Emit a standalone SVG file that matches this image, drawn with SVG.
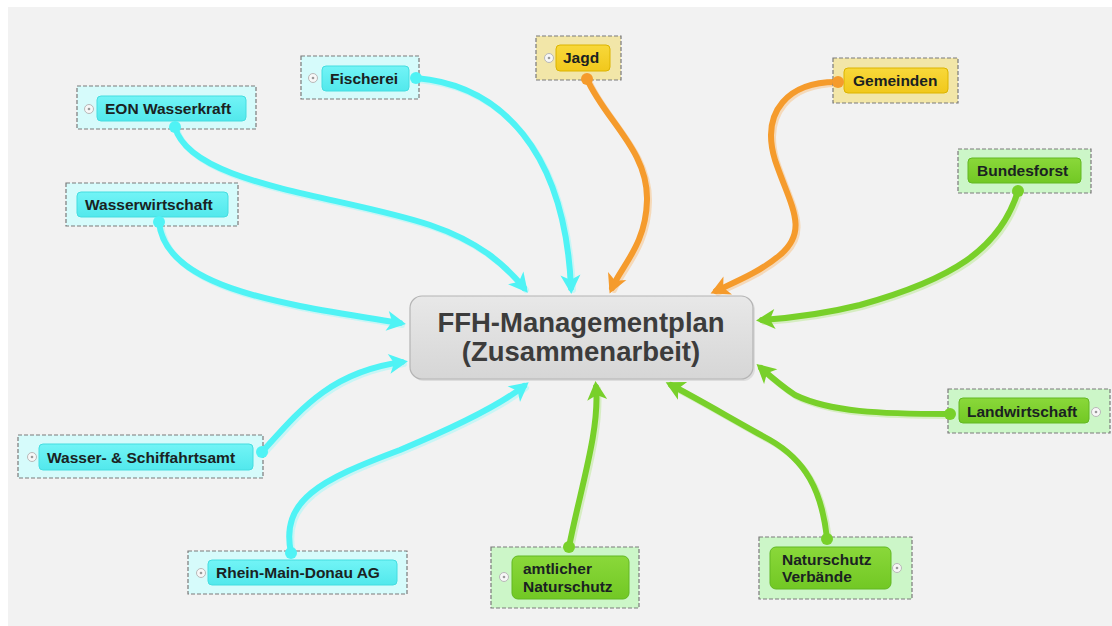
<svg xmlns="http://www.w3.org/2000/svg" width="1112" height="626" viewBox="0 0 1112 626">
<style>
.bg{fill:#f2f2f2}
.ob{stroke:#7a7a7a;stroke-width:1.2;stroke-dasharray:4 2}
.obc{fill:#d6fbfb}
.oby{fill:#f2e6a8}
.obg{fill:#ccf6c8}
.ibc{fill:url(#gc);stroke:#45dde0;stroke-width:1}
.iby{fill:url(#gy);stroke:#dcb400;stroke-width:1}
.ibg{fill:url(#gg);stroke:#62b822;stroke-width:1}
.t{font-family:"Liberation Sans",Arial,sans-serif;font-weight:bold;font-size:15.5px;fill:#1a2222}
.ct{font-family:"Liberation Sans",Arial,sans-serif;font-weight:bold;font-size:27.5px;fill:#3c3c3c;text-anchor:middle}
.ex{fill:#f7f7f7;stroke:#b8b8b8;stroke-width:1}
.exd{fill:#9a9a9a}
.ln{fill:none;stroke-width:6;stroke-linecap:round}
.sh{fill:none;stroke-width:6;stroke-linecap:round;opacity:0.55}
.c{stroke:#4ff3f5}
.o{stroke:#f59b2c}
.g{stroke:#78d02a}
.cs{stroke:#a8f7f7}
.os{stroke:#f7c48a}
.gs{stroke:#bfe99a}
</style>
<defs>
<linearGradient id="gc" x1="0" y1="0" x2="0" y2="1"><stop offset="0" stop-color="#72f4f6"/><stop offset="1" stop-color="#52e8ec"/></linearGradient>
<linearGradient id="gy" x1="0" y1="0" x2="0" y2="1"><stop offset="0" stop-color="#f8d83a"/><stop offset="1" stop-color="#f1c81c"/></linearGradient>
<linearGradient id="gg" x1="0" y1="0" x2="0" y2="1"><stop offset="0" stop-color="#8ad83a"/><stop offset="1" stop-color="#72c824"/></linearGradient>
<linearGradient id="gm" x1="0" y1="0" x2="0" y2="1"><stop offset="0" stop-color="#e8e8e8"/><stop offset="1" stop-color="#d6d6d6"/></linearGradient>
<marker id="ac" markerUnits="userSpaceOnUse" markerWidth="24" markerHeight="24" viewBox="-2 -12 24 24" refX="13" refY="0" orient="auto"><path d="M0,-10 L19,0 L0,10 L5,0 Z" fill="#4ff3f5"/></marker>
<marker id="ao" markerUnits="userSpaceOnUse" markerWidth="24" markerHeight="24" viewBox="-2 -12 24 24" refX="13" refY="0" orient="auto"><path d="M0,-10 L19,0 L0,10 L5,0 Z" fill="#f59b2c"/></marker>
<marker id="ag" markerUnits="userSpaceOnUse" markerWidth="24" markerHeight="24" viewBox="-2 -12 24 24" refX="13" refY="0" orient="auto"><path d="M0,-10 L19,0 L0,10 L5,0 Z" fill="#78d02a"/></marker>
</defs>
<rect x="0" y="0" width="1112" height="626" fill="#ffffff"/>
<rect class="bg" x="8" y="7" width="1104" height="619"/>

<g id="connectors">
<g transform="translate(2,2)">
<path class="sh cs" d="M416,78 C500,85 565,150 571,288"/>
<path class="sh cs" d="M175,127 C190,185 340,195 430,225 C480,242 505,265 524,288"/>
<path class="sh cs" d="M159,222 C165,290 290,305 400,323"/>
<path class="sh cs" d="M262,452 C300,410 330,372 402,362"/>
<path class="sh cs" d="M291,553 C280,500 320,480 400,450 C460,425 500,405 524,386"/>
<path class="sh os" d="M587,79 C605,120 648,150 647,200 C646,245 622,265 612,288"/>
<path class="sh os" d="M836,82 C790,82 760,110 775,160 C790,205 810,230 780,255 C760,272 735,282 716,291"/>
<path class="sh gs" d="M1018,191 C1000,250 950,280 860,305 C820,315 790,318 762,320"/>
<path class="sh gs" d="M950,414 C880,414 830,412 795,395 C780,385 770,376 761,368"/>
<path class="sh gs" d="M827,539 C822,490 805,460 770,440 C730,418 700,400 671,385"/>
<path class="sh gs" d="M569,547 C580,490 600,430 596,387"/>
</g>
<path class="ln c" marker-end="url(#ac)" d="M416,78 C500,85 565,150 571,288"/>
<path class="ln c" marker-end="url(#ac)" d="M175,127 C190,185 340,195 430,225 C480,242 505,265 524,288"/>
<path class="ln c" marker-end="url(#ac)" d="M159,222 C165,290 290,305 400,323"/>
<path class="ln c" marker-end="url(#ac)" d="M262,452 C300,410 330,372 402,362"/>
<path class="ln c" marker-end="url(#ac)" d="M291,553 C280,500 320,480 400,450 C460,425 500,405 524,386"/>
<path class="ln o" marker-end="url(#ao)" d="M587,79 C605,120 648,150 647,200 C646,245 622,265 612,288"/>
<path class="ln o" marker-end="url(#ao)" d="M836,82 C790,82 760,110 775,160 C790,205 810,230 780,255 C760,272 735,282 716,291"/>
<path class="ln g" marker-end="url(#ag)" d="M1018,191 C1000,250 950,280 860,305 C820,315 790,318 762,320"/>
<path class="ln g" marker-end="url(#ag)" d="M950,414 C880,414 830,412 795,395 C780,385 770,376 761,368"/>
<path class="ln g" marker-end="url(#ag)" d="M827,539 C822,490 805,460 770,440 C730,418 700,400 671,385"/>
<path class="ln g" marker-end="url(#ag)" d="M569,547 C580,490 600,430 596,387"/>
</g>

<g id="center">
<rect x="412" y="298" width="343" height="83" rx="12" fill="#c8c8c8" opacity="0.5"/>
<rect x="410" y="296" width="343" height="83" rx="12" fill="url(#gm)" stroke="#b4b4b4" stroke-width="1.2"/>
<text class="ct" x="581" y="332">FFH-Managementplan</text>
<text class="ct" x="581" y="361">(Zusammenarbeit)</text>
</g>

<g id="fischerei">
<rect class="ob obc" x="301" y="56" width="118" height="43"/>
<rect class="ibc" x="322" y="66" width="87" height="25" rx="4"/>
<circle class="ex" cx="313" cy="78" r="4.5"/><circle class="exd" cx="313" cy="78" r="1.3"/>
<text class="t" x="330" y="84">Fischerei</text>
<circle cx="416" cy="78" r="6" fill="#4ff3f5"/>
</g>

<g id="eon">
<rect class="ob obc" x="77" y="86" width="179" height="43"/>
<rect class="ibc" x="97" y="96" width="149" height="25" rx="4"/>
<circle class="ex" cx="89" cy="109" r="4.5"/><circle class="exd" cx="89" cy="109" r="1.3"/>
<text class="t" x="105" y="114">EON Wasserkraft</text>
<circle cx="175" cy="127" r="6" fill="#4ff3f5"/>
</g>

<g id="wasserwirtschaft">
<rect class="ob obc" x="66" y="183" width="172" height="43"/>
<rect class="ibc" x="77" y="192" width="151" height="25" rx="4"/>
<text class="t" x="85" y="210">Wasserwirtschaft</text>
<circle cx="159" cy="222" r="6" fill="#4ff3f5"/>
</g>

<g id="schiffahrtsamt">
<rect class="ob obc" x="18" y="435" width="245" height="43"/>
<rect class="ibc" x="39" y="444" width="214" height="26" rx="4"/>
<circle class="ex" cx="32" cy="457" r="4.5"/><circle class="exd" cx="32" cy="457" r="1.3"/>
<text class="t" x="47" y="463">Wasser- &amp; Schiffahrtsamt</text>
<circle cx="262" cy="452" r="6" fill="#4ff3f5"/>
</g>

<g id="rmd">
<rect class="ob obc" x="188" y="551" width="219" height="43"/>
<rect class="ibc" x="208" y="560" width="189" height="25" rx="4"/>
<circle class="ex" cx="201" cy="573" r="4.5"/><circle class="exd" cx="201" cy="573" r="1.3"/>
<text class="t" x="216" y="578">Rhein-Main-Donau AG</text>
<circle cx="291" cy="553" r="6" fill="#4ff3f5"/>
</g>

<g id="jagd">
<rect class="ob oby" x="536" y="36" width="85" height="44"/>
<rect class="iby" x="556" y="45" width="54" height="26" rx="4"/>
<circle class="ex" cx="549" cy="58" r="4.5"/><circle class="exd" cx="549" cy="58" r="1.3"/>
<text class="t" x="563" y="63">Jagd</text>
<circle cx="587" cy="79" r="6" fill="#f59b2c"/>
</g>

<g id="gemeinden">
<rect class="ob oby" x="833" y="58" width="125" height="45"/>
<rect class="iby" x="844" y="68" width="104" height="25" rx="4"/>
<text class="t" x="853" y="86">Gemeinden</text>
<circle cx="838" cy="82" r="6" fill="#f59b2c"/>
</g>

<g id="bundesforst">
<rect class="ob obg" x="958" y="149" width="133" height="44"/>
<rect class="ibg" x="968" y="158" width="113" height="25" rx="4"/>
<text class="t" x="977" y="176">Bundesforst</text>
<circle cx="1018" cy="191" r="6" fill="#78d02a"/>
</g>

<g id="landwirtschaft">
<rect class="ob obg" x="948" y="389" width="162" height="44"/>
<rect class="ibg" x="959" y="398" width="130" height="25" rx="4"/>
<circle class="ex" cx="1096" cy="412" r="4.5"/><circle class="exd" cx="1096" cy="412" r="1.3"/>
<text class="t" x="967" y="417">Landwirtschaft</text>
<circle cx="950" cy="414" r="6" fill="#78d02a"/>
</g>

<g id="verbaende">
<rect class="ob obg" x="759" y="537" width="153" height="62"/>
<rect class="ibg" x="770" y="547" width="121" height="42" rx="6"/>
<circle class="ex" cx="897" cy="568" r="4.5"/><circle class="exd" cx="897" cy="568" r="1.3"/>
<text class="t" x="782" y="565">Naturschutz</text>
<text class="t" x="782" y="582">Verbände</text>
<circle cx="827" cy="539" r="6" fill="#78d02a"/>
</g>

<g id="amtlich">
<rect class="ob obg" x="491" y="547" width="148" height="61"/>
<rect class="ibg" x="512" y="556" width="117" height="43" rx="6"/>
<circle class="ex" cx="504" cy="577" r="4.5"/><circle class="exd" cx="504" cy="577" r="1.3"/>
<text class="t" x="523" y="574">amtlicher</text>
<text class="t" x="523" y="592">Naturschutz</text>
<circle cx="569" cy="547" r="6" fill="#78d02a"/>
</g>
</svg>
